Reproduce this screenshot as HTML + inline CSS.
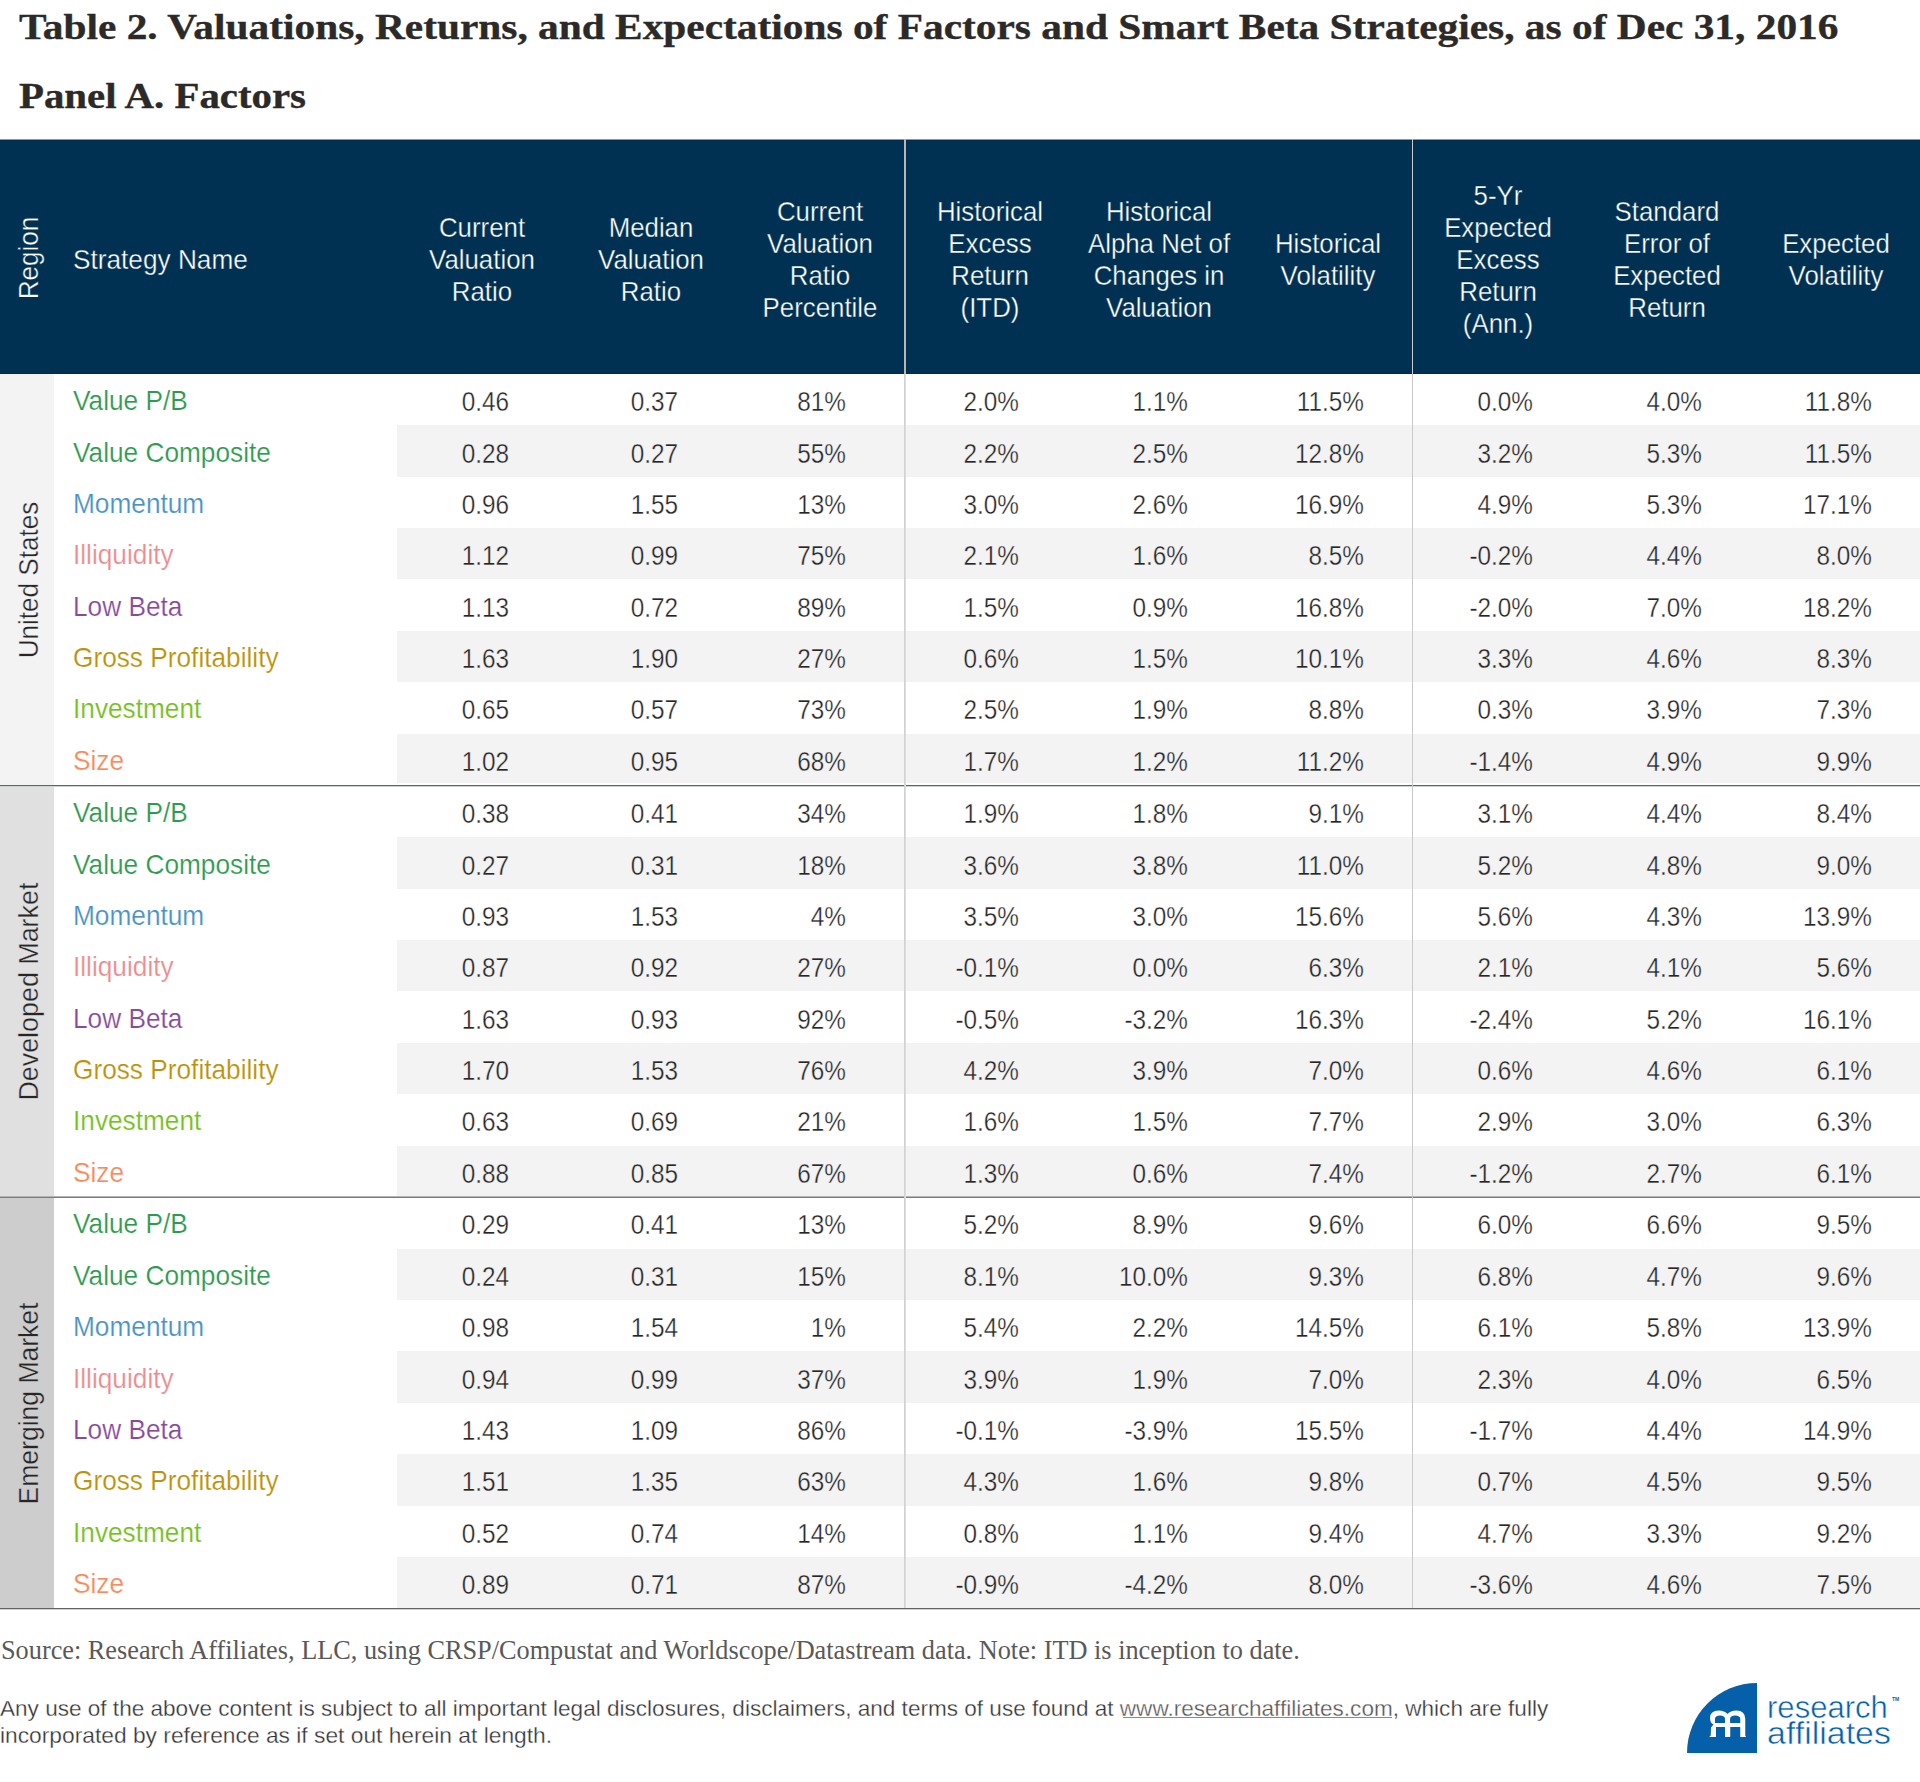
<!DOCTYPE html><html><head><meta charset="utf-8"><style>
html,body{margin:0;padding:0;background:#fff;width:1920px;height:1782px;overflow:hidden;position:relative}
div{position:absolute;white-space:nowrap}
.t{font-family:"Liberation Sans",sans-serif;font-size:27.20px;line-height:normal;color:#262626}
.h{font-family:"Liberation Sans",sans-serif;font-size:27.20px;line-height:normal;color:#fff;text-align:center;width:300px;-webkit-text-stroke:0.35px #013152}
.s{font-family:"Liberation Serif",serif;font-weight:bold;color:#2b2a28;line-height:normal;-webkit-text-stroke:0.35px #2b2a28}
.r{text-align:right;width:200px}
</style></head><body>
<div class="s" style="left:19px;top:4.71px;font-size:36.8px;transform-origin:0 0;transform:scaleX(1.124)" id="title">Table 2. Valuations, Returns, and Expectations of Factors and Smart Beta Strategies, as of Dec 31, 2016</div>
<div class="s" style="left:19px;top:73.81px;font-size:36.8px;transform-origin:0 0;transform:scaleX(1.11)" id="panel">Panel A. Factors</div>
<div style="left:0;top:139px;width:1920px;height:235px;background:#013152"></div>
<div style="left:0;top:139px;width:1920px;height:1px;background:#8a98a4"></div>
<div style="left:0;top:140px;width:1920px;height:1px;background:#012a4c"></div>
<div style="left:0;top:373px;width:1920px;height:1px;background:#012a4c"></div>
<div style="left:0;top:374px;width:54px;height:411px;background:#f3f3f3"></div>
<div style="left:397px;top:425.38px;width:1523px;height:51.38px;background:#f3f3f3"></div>
<div style="left:397px;top:528.12px;width:1523px;height:51.38px;background:#f3f3f3"></div>
<div style="left:397px;top:630.88px;width:1523px;height:51.38px;background:#f3f3f3"></div>
<div style="left:397px;top:733.62px;width:1523px;height:49.38px;background:#f3f3f3"></div>
<div style="left:0;top:786px;width:54px;height:410px;background:#e0e0e0"></div>
<div style="left:397px;top:837.38px;width:1523px;height:51.38px;background:#f3f3f3"></div>
<div style="left:397px;top:940.12px;width:1523px;height:51.38px;background:#f3f3f3"></div>
<div style="left:397px;top:1042.88px;width:1523px;height:51.38px;background:#f3f3f3"></div>
<div style="left:397px;top:1145.62px;width:1523px;height:50.38px;background:#f3f3f3"></div>
<div style="left:0;top:1198px;width:54px;height:410px;background:#cdcdcd"></div>
<div style="left:397px;top:1248.67px;width:1523px;height:51.38px;background:#f3f3f3"></div>
<div style="left:397px;top:1351.42px;width:1523px;height:51.38px;background:#f3f3f3"></div>
<div style="left:397px;top:1454.17px;width:1523px;height:51.38px;background:#f3f3f3"></div>
<div style="left:397px;top:1556.92px;width:1523px;height:51.08px;background:#f3f3f3"></div>
<div style="left:0;top:785px;width:1920px;height:1px;background:#646464"></div>
<div style="left:0;top:786px;width:1920px;height:1px;background:#cfd3d0"></div>
<div style="left:0;top:1196px;width:1920px;height:1px;background:#b5b5b5"></div>
<div style="left:0;top:1197px;width:1920px;height:1px;background:#7b7b7b"></div>
<div style="left:0;top:1608px;width:1920px;height:1px;background:#646464"></div>
<div style="left:0;top:1609px;width:1920px;height:1px;background:#d0d0d0"></div>
<div style="left:904px;top:374px;width:1px;height:1234px;background:#d2d2d2"></div>
<div style="left:905px;top:374px;width:1px;height:1234px;background:#dddddd"></div>
<div style="left:904px;top:139px;width:2px;height:235px;background:#b9b6b4"></div>
<div style="left:1412px;top:374px;width:1px;height:1234px;background:#c9c9c9"></div>
<div style="left:1412px;top:139px;width:1px;height:235px;background:#cccccc"></div>
<div class="h" style="left:13.38px;top:545.80px;width:600px;transform-origin:0 0;transform:rotate(-90deg) scaleX(0.96)" id="regionh">Region</div>
<div class="t" style="left:72.5px;top:244.08px;color:#fff;-webkit-text-stroke:0.35px #013152;transform-origin:0 0;transform:scaleX(0.964)">Strategy Name</div>
<div class="h" style="left:331.67px;top:212.08px;transform:scaleX(0.950)">Current</div>
<div class="h" style="left:331.67px;top:244.08px;transform:scaleX(0.950)">Valuation</div>
<div class="h" style="left:331.67px;top:276.08px;transform:scaleX(0.950)">Ratio</div>
<div class="h" style="left:501.00px;top:212.08px;transform:scaleX(0.950)">Median</div>
<div class="h" style="left:501.00px;top:244.08px;transform:scaleX(0.950)">Valuation</div>
<div class="h" style="left:501.00px;top:276.08px;transform:scaleX(0.950)">Ratio</div>
<div class="h" style="left:670.33px;top:196.08px;transform:scaleX(0.950)">Current</div>
<div class="h" style="left:670.33px;top:228.08px;transform:scaleX(0.950)">Valuation</div>
<div class="h" style="left:670.33px;top:260.08px;transform:scaleX(0.950)">Ratio</div>
<div class="h" style="left:670.33px;top:292.08px;transform:scaleX(0.950)">Percentile</div>
<div class="h" style="left:839.67px;top:196.08px;transform:scaleX(0.950)">Historical</div>
<div class="h" style="left:839.67px;top:228.08px;transform:scaleX(0.950)">Excess</div>
<div class="h" style="left:839.67px;top:260.08px;transform:scaleX(0.950)">Return</div>
<div class="h" style="left:839.67px;top:292.08px;transform:scaleX(0.950)">(ITD)</div>
<div class="h" style="left:1009.00px;top:196.08px;transform:scaleX(0.950)">Historical</div>
<div class="h" style="left:1009.00px;top:228.08px;transform:scaleX(0.950)">Alpha Net of</div>
<div class="h" style="left:1009.00px;top:260.08px;transform:scaleX(0.950)">Changes in</div>
<div class="h" style="left:1009.00px;top:292.08px;transform:scaleX(0.950)">Valuation</div>
<div class="h" style="left:1178.33px;top:228.08px;transform:scaleX(0.950)">Historical</div>
<div class="h" style="left:1178.33px;top:260.08px;transform:scaleX(0.950)">Volatility</div>
<div class="h" style="left:1347.66px;top:180.08px;transform:scaleX(0.950)">5-Yr</div>
<div class="h" style="left:1347.66px;top:212.08px;transform:scaleX(0.950)">Expected</div>
<div class="h" style="left:1347.66px;top:244.08px;transform:scaleX(0.950)">Excess</div>
<div class="h" style="left:1347.66px;top:276.08px;transform:scaleX(0.950)">Return</div>
<div class="h" style="left:1347.66px;top:308.08px;transform:scaleX(0.950)">(Ann.)</div>
<div class="h" style="left:1517.00px;top:196.08px;transform:scaleX(0.950)">Standard</div>
<div class="h" style="left:1517.00px;top:228.08px;transform:scaleX(0.950)">Error of</div>
<div class="h" style="left:1517.00px;top:260.08px;transform:scaleX(0.950)">Expected</div>
<div class="h" style="left:1517.00px;top:292.08px;transform:scaleX(0.950)">Return</div>
<div class="h" style="left:1686.33px;top:228.08px;transform:scaleX(0.950)">Expected</div>
<div class="h" style="left:1686.33px;top:260.08px;transform:scaleX(0.950)">Volatility</div>
<div class="t" style="left:72.5px;top:385.18px;color:#2e9a4e;-webkit-text-stroke:0.20px #fff;transform-origin:0 0;transform:scaleX(0.965)">Value P/B</div>
<div class="t r" style="left:308.50px;top:386.18px;-webkit-text-stroke:0.35px #fff;transform-origin:100% 0;transform:scaleX(0.895)">0.46</div>
<div class="t r" style="left:477.80px;top:386.18px;-webkit-text-stroke:0.35px #fff;transform-origin:100% 0;transform:scaleX(0.895)">0.37</div>
<div class="t r" style="left:646.00px;top:386.18px;-webkit-text-stroke:0.35px #fff;transform-origin:100% 0;transform:scaleX(0.895)">81%</div>
<div class="t r" style="left:819.00px;top:386.18px;-webkit-text-stroke:0.35px #fff;transform-origin:100% 0;transform:scaleX(0.895)">2.0%</div>
<div class="t r" style="left:988.00px;top:386.18px;-webkit-text-stroke:0.35px #fff;transform-origin:100% 0;transform:scaleX(0.895)">1.1%</div>
<div class="t r" style="left:1164.00px;top:386.18px;-webkit-text-stroke:0.35px #fff;transform-origin:100% 0;transform:scaleX(0.895)">11.5%</div>
<div class="t r" style="left:1333.00px;top:386.18px;-webkit-text-stroke:0.35px #fff;transform-origin:100% 0;transform:scaleX(0.895)">0.0%</div>
<div class="t r" style="left:1502.00px;top:386.18px;-webkit-text-stroke:0.35px #fff;transform-origin:100% 0;transform:scaleX(0.895)">4.0%</div>
<div class="t r" style="left:1671.80px;top:386.18px;-webkit-text-stroke:0.35px #fff;transform-origin:100% 0;transform:scaleX(0.895)">11.8%</div>
<div class="t" style="left:72.5px;top:436.55px;color:#2e9a4e;-webkit-text-stroke:0.20px #fff;transform-origin:0 0;transform:scaleX(0.965)">Value Composite</div>
<div class="t r" style="left:308.50px;top:437.55px;-webkit-text-stroke:0.35px #f3f3f3;transform-origin:100% 0;transform:scaleX(0.895)">0.28</div>
<div class="t r" style="left:477.80px;top:437.55px;-webkit-text-stroke:0.35px #f3f3f3;transform-origin:100% 0;transform:scaleX(0.895)">0.27</div>
<div class="t r" style="left:646.00px;top:437.55px;-webkit-text-stroke:0.35px #f3f3f3;transform-origin:100% 0;transform:scaleX(0.895)">55%</div>
<div class="t r" style="left:819.00px;top:437.55px;-webkit-text-stroke:0.35px #f3f3f3;transform-origin:100% 0;transform:scaleX(0.895)">2.2%</div>
<div class="t r" style="left:988.00px;top:437.55px;-webkit-text-stroke:0.35px #f3f3f3;transform-origin:100% 0;transform:scaleX(0.895)">2.5%</div>
<div class="t r" style="left:1164.00px;top:437.55px;-webkit-text-stroke:0.35px #f3f3f3;transform-origin:100% 0;transform:scaleX(0.895)">12.8%</div>
<div class="t r" style="left:1333.00px;top:437.55px;-webkit-text-stroke:0.35px #f3f3f3;transform-origin:100% 0;transform:scaleX(0.895)">3.2%</div>
<div class="t r" style="left:1502.00px;top:437.55px;-webkit-text-stroke:0.35px #f3f3f3;transform-origin:100% 0;transform:scaleX(0.895)">5.3%</div>
<div class="t r" style="left:1671.80px;top:437.55px;-webkit-text-stroke:0.35px #f3f3f3;transform-origin:100% 0;transform:scaleX(0.895)">11.5%</div>
<div class="t" style="left:72.5px;top:487.93px;color:#4a92c4;-webkit-text-stroke:0.20px #fff;transform-origin:0 0;transform:scaleX(0.965)">Momentum</div>
<div class="t r" style="left:308.50px;top:488.93px;-webkit-text-stroke:0.35px #fff;transform-origin:100% 0;transform:scaleX(0.895)">0.96</div>
<div class="t r" style="left:477.80px;top:488.93px;-webkit-text-stroke:0.35px #fff;transform-origin:100% 0;transform:scaleX(0.895)">1.55</div>
<div class="t r" style="left:646.00px;top:488.93px;-webkit-text-stroke:0.35px #fff;transform-origin:100% 0;transform:scaleX(0.895)">13%</div>
<div class="t r" style="left:819.00px;top:488.93px;-webkit-text-stroke:0.35px #fff;transform-origin:100% 0;transform:scaleX(0.895)">3.0%</div>
<div class="t r" style="left:988.00px;top:488.93px;-webkit-text-stroke:0.35px #fff;transform-origin:100% 0;transform:scaleX(0.895)">2.6%</div>
<div class="t r" style="left:1164.00px;top:488.93px;-webkit-text-stroke:0.35px #fff;transform-origin:100% 0;transform:scaleX(0.895)">16.9%</div>
<div class="t r" style="left:1333.00px;top:488.93px;-webkit-text-stroke:0.35px #fff;transform-origin:100% 0;transform:scaleX(0.895)">4.9%</div>
<div class="t r" style="left:1502.00px;top:488.93px;-webkit-text-stroke:0.35px #fff;transform-origin:100% 0;transform:scaleX(0.895)">5.3%</div>
<div class="t r" style="left:1671.80px;top:488.93px;-webkit-text-stroke:0.35px #fff;transform-origin:100% 0;transform:scaleX(0.895)">17.1%</div>
<div class="t" style="left:72.5px;top:539.30px;color:#ea8c8e;-webkit-text-stroke:0.20px #fff;transform-origin:0 0;transform:scaleX(0.965)">Illiquidity</div>
<div class="t r" style="left:308.50px;top:540.30px;-webkit-text-stroke:0.35px #f3f3f3;transform-origin:100% 0;transform:scaleX(0.895)">1.12</div>
<div class="t r" style="left:477.80px;top:540.30px;-webkit-text-stroke:0.35px #f3f3f3;transform-origin:100% 0;transform:scaleX(0.895)">0.99</div>
<div class="t r" style="left:646.00px;top:540.30px;-webkit-text-stroke:0.35px #f3f3f3;transform-origin:100% 0;transform:scaleX(0.895)">75%</div>
<div class="t r" style="left:819.00px;top:540.30px;-webkit-text-stroke:0.35px #f3f3f3;transform-origin:100% 0;transform:scaleX(0.895)">2.1%</div>
<div class="t r" style="left:988.00px;top:540.30px;-webkit-text-stroke:0.35px #f3f3f3;transform-origin:100% 0;transform:scaleX(0.895)">1.6%</div>
<div class="t r" style="left:1164.00px;top:540.30px;-webkit-text-stroke:0.35px #f3f3f3;transform-origin:100% 0;transform:scaleX(0.895)">8.5%</div>
<div class="t r" style="left:1333.00px;top:540.30px;-webkit-text-stroke:0.35px #f3f3f3;transform-origin:100% 0;transform:scaleX(0.895)">-0.2%</div>
<div class="t r" style="left:1502.00px;top:540.30px;-webkit-text-stroke:0.35px #f3f3f3;transform-origin:100% 0;transform:scaleX(0.895)">4.4%</div>
<div class="t r" style="left:1671.80px;top:540.30px;-webkit-text-stroke:0.35px #f3f3f3;transform-origin:100% 0;transform:scaleX(0.895)">8.0%</div>
<div class="t" style="left:72.5px;top:590.68px;color:#874a9c;-webkit-text-stroke:0.20px #fff;transform-origin:0 0;transform:scaleX(0.965)">Low Beta</div>
<div class="t r" style="left:308.50px;top:591.68px;-webkit-text-stroke:0.35px #fff;transform-origin:100% 0;transform:scaleX(0.895)">1.13</div>
<div class="t r" style="left:477.80px;top:591.68px;-webkit-text-stroke:0.35px #fff;transform-origin:100% 0;transform:scaleX(0.895)">0.72</div>
<div class="t r" style="left:646.00px;top:591.68px;-webkit-text-stroke:0.35px #fff;transform-origin:100% 0;transform:scaleX(0.895)">89%</div>
<div class="t r" style="left:819.00px;top:591.68px;-webkit-text-stroke:0.35px #fff;transform-origin:100% 0;transform:scaleX(0.895)">1.5%</div>
<div class="t r" style="left:988.00px;top:591.68px;-webkit-text-stroke:0.35px #fff;transform-origin:100% 0;transform:scaleX(0.895)">0.9%</div>
<div class="t r" style="left:1164.00px;top:591.68px;-webkit-text-stroke:0.35px #fff;transform-origin:100% 0;transform:scaleX(0.895)">16.8%</div>
<div class="t r" style="left:1333.00px;top:591.68px;-webkit-text-stroke:0.35px #fff;transform-origin:100% 0;transform:scaleX(0.895)">-2.0%</div>
<div class="t r" style="left:1502.00px;top:591.68px;-webkit-text-stroke:0.35px #fff;transform-origin:100% 0;transform:scaleX(0.895)">7.0%</div>
<div class="t r" style="left:1671.80px;top:591.68px;-webkit-text-stroke:0.35px #fff;transform-origin:100% 0;transform:scaleX(0.895)">18.2%</div>
<div class="t" style="left:72.5px;top:642.05px;color:#bb920a;-webkit-text-stroke:0.20px #fff;transform-origin:0 0;transform:scaleX(0.965)">Gross Profitability</div>
<div class="t r" style="left:308.50px;top:643.05px;-webkit-text-stroke:0.35px #f3f3f3;transform-origin:100% 0;transform:scaleX(0.895)">1.63</div>
<div class="t r" style="left:477.80px;top:643.05px;-webkit-text-stroke:0.35px #f3f3f3;transform-origin:100% 0;transform:scaleX(0.895)">1.90</div>
<div class="t r" style="left:646.00px;top:643.05px;-webkit-text-stroke:0.35px #f3f3f3;transform-origin:100% 0;transform:scaleX(0.895)">27%</div>
<div class="t r" style="left:819.00px;top:643.05px;-webkit-text-stroke:0.35px #f3f3f3;transform-origin:100% 0;transform:scaleX(0.895)">0.6%</div>
<div class="t r" style="left:988.00px;top:643.05px;-webkit-text-stroke:0.35px #f3f3f3;transform-origin:100% 0;transform:scaleX(0.895)">1.5%</div>
<div class="t r" style="left:1164.00px;top:643.05px;-webkit-text-stroke:0.35px #f3f3f3;transform-origin:100% 0;transform:scaleX(0.895)">10.1%</div>
<div class="t r" style="left:1333.00px;top:643.05px;-webkit-text-stroke:0.35px #f3f3f3;transform-origin:100% 0;transform:scaleX(0.895)">3.3%</div>
<div class="t r" style="left:1502.00px;top:643.05px;-webkit-text-stroke:0.35px #f3f3f3;transform-origin:100% 0;transform:scaleX(0.895)">4.6%</div>
<div class="t r" style="left:1671.80px;top:643.05px;-webkit-text-stroke:0.35px #f3f3f3;transform-origin:100% 0;transform:scaleX(0.895)">8.3%</div>
<div class="t" style="left:72.5px;top:693.43px;color:#74c01c;-webkit-text-stroke:0.20px #fff;transform-origin:0 0;transform:scaleX(0.965)">Investment</div>
<div class="t r" style="left:308.50px;top:694.43px;-webkit-text-stroke:0.35px #fff;transform-origin:100% 0;transform:scaleX(0.895)">0.65</div>
<div class="t r" style="left:477.80px;top:694.43px;-webkit-text-stroke:0.35px #fff;transform-origin:100% 0;transform:scaleX(0.895)">0.57</div>
<div class="t r" style="left:646.00px;top:694.43px;-webkit-text-stroke:0.35px #fff;transform-origin:100% 0;transform:scaleX(0.895)">73%</div>
<div class="t r" style="left:819.00px;top:694.43px;-webkit-text-stroke:0.35px #fff;transform-origin:100% 0;transform:scaleX(0.895)">2.5%</div>
<div class="t r" style="left:988.00px;top:694.43px;-webkit-text-stroke:0.35px #fff;transform-origin:100% 0;transform:scaleX(0.895)">1.9%</div>
<div class="t r" style="left:1164.00px;top:694.43px;-webkit-text-stroke:0.35px #fff;transform-origin:100% 0;transform:scaleX(0.895)">8.8%</div>
<div class="t r" style="left:1333.00px;top:694.43px;-webkit-text-stroke:0.35px #fff;transform-origin:100% 0;transform:scaleX(0.895)">0.3%</div>
<div class="t r" style="left:1502.00px;top:694.43px;-webkit-text-stroke:0.35px #fff;transform-origin:100% 0;transform:scaleX(0.895)">3.9%</div>
<div class="t r" style="left:1671.80px;top:694.43px;-webkit-text-stroke:0.35px #fff;transform-origin:100% 0;transform:scaleX(0.895)">7.3%</div>
<div class="t" style="left:72.5px;top:744.80px;color:#f78b5b;-webkit-text-stroke:0.20px #fff;transform-origin:0 0;transform:scaleX(0.965)">Size</div>
<div class="t r" style="left:308.50px;top:745.80px;-webkit-text-stroke:0.35px #f3f3f3;transform-origin:100% 0;transform:scaleX(0.895)">1.02</div>
<div class="t r" style="left:477.80px;top:745.80px;-webkit-text-stroke:0.35px #f3f3f3;transform-origin:100% 0;transform:scaleX(0.895)">0.95</div>
<div class="t r" style="left:646.00px;top:745.80px;-webkit-text-stroke:0.35px #f3f3f3;transform-origin:100% 0;transform:scaleX(0.895)">68%</div>
<div class="t r" style="left:819.00px;top:745.80px;-webkit-text-stroke:0.35px #f3f3f3;transform-origin:100% 0;transform:scaleX(0.895)">1.7%</div>
<div class="t r" style="left:988.00px;top:745.80px;-webkit-text-stroke:0.35px #f3f3f3;transform-origin:100% 0;transform:scaleX(0.895)">1.2%</div>
<div class="t r" style="left:1164.00px;top:745.80px;-webkit-text-stroke:0.35px #f3f3f3;transform-origin:100% 0;transform:scaleX(0.895)">11.2%</div>
<div class="t r" style="left:1333.00px;top:745.80px;-webkit-text-stroke:0.35px #f3f3f3;transform-origin:100% 0;transform:scaleX(0.895)">-1.4%</div>
<div class="t r" style="left:1502.00px;top:745.80px;-webkit-text-stroke:0.35px #f3f3f3;transform-origin:100% 0;transform:scaleX(0.895)">4.9%</div>
<div class="t r" style="left:1671.80px;top:745.80px;-webkit-text-stroke:0.35px #f3f3f3;transform-origin:100% 0;transform:scaleX(0.895)">9.9%</div>
<div class="t" style="left:72.5px;top:797.18px;color:#2e9a4e;-webkit-text-stroke:0.20px #fff;transform-origin:0 0;transform:scaleX(0.965)">Value P/B</div>
<div class="t r" style="left:308.50px;top:798.18px;-webkit-text-stroke:0.35px #fff;transform-origin:100% 0;transform:scaleX(0.895)">0.38</div>
<div class="t r" style="left:477.80px;top:798.18px;-webkit-text-stroke:0.35px #fff;transform-origin:100% 0;transform:scaleX(0.895)">0.41</div>
<div class="t r" style="left:646.00px;top:798.18px;-webkit-text-stroke:0.35px #fff;transform-origin:100% 0;transform:scaleX(0.895)">34%</div>
<div class="t r" style="left:819.00px;top:798.18px;-webkit-text-stroke:0.35px #fff;transform-origin:100% 0;transform:scaleX(0.895)">1.9%</div>
<div class="t r" style="left:988.00px;top:798.18px;-webkit-text-stroke:0.35px #fff;transform-origin:100% 0;transform:scaleX(0.895)">1.8%</div>
<div class="t r" style="left:1164.00px;top:798.18px;-webkit-text-stroke:0.35px #fff;transform-origin:100% 0;transform:scaleX(0.895)">9.1%</div>
<div class="t r" style="left:1333.00px;top:798.18px;-webkit-text-stroke:0.35px #fff;transform-origin:100% 0;transform:scaleX(0.895)">3.1%</div>
<div class="t r" style="left:1502.00px;top:798.18px;-webkit-text-stroke:0.35px #fff;transform-origin:100% 0;transform:scaleX(0.895)">4.4%</div>
<div class="t r" style="left:1671.80px;top:798.18px;-webkit-text-stroke:0.35px #fff;transform-origin:100% 0;transform:scaleX(0.895)">8.4%</div>
<div class="t" style="left:72.5px;top:848.55px;color:#2e9a4e;-webkit-text-stroke:0.20px #fff;transform-origin:0 0;transform:scaleX(0.965)">Value Composite</div>
<div class="t r" style="left:308.50px;top:849.55px;-webkit-text-stroke:0.35px #f3f3f3;transform-origin:100% 0;transform:scaleX(0.895)">0.27</div>
<div class="t r" style="left:477.80px;top:849.55px;-webkit-text-stroke:0.35px #f3f3f3;transform-origin:100% 0;transform:scaleX(0.895)">0.31</div>
<div class="t r" style="left:646.00px;top:849.55px;-webkit-text-stroke:0.35px #f3f3f3;transform-origin:100% 0;transform:scaleX(0.895)">18%</div>
<div class="t r" style="left:819.00px;top:849.55px;-webkit-text-stroke:0.35px #f3f3f3;transform-origin:100% 0;transform:scaleX(0.895)">3.6%</div>
<div class="t r" style="left:988.00px;top:849.55px;-webkit-text-stroke:0.35px #f3f3f3;transform-origin:100% 0;transform:scaleX(0.895)">3.8%</div>
<div class="t r" style="left:1164.00px;top:849.55px;-webkit-text-stroke:0.35px #f3f3f3;transform-origin:100% 0;transform:scaleX(0.895)">11.0%</div>
<div class="t r" style="left:1333.00px;top:849.55px;-webkit-text-stroke:0.35px #f3f3f3;transform-origin:100% 0;transform:scaleX(0.895)">5.2%</div>
<div class="t r" style="left:1502.00px;top:849.55px;-webkit-text-stroke:0.35px #f3f3f3;transform-origin:100% 0;transform:scaleX(0.895)">4.8%</div>
<div class="t r" style="left:1671.80px;top:849.55px;-webkit-text-stroke:0.35px #f3f3f3;transform-origin:100% 0;transform:scaleX(0.895)">9.0%</div>
<div class="t" style="left:72.5px;top:899.93px;color:#4a92c4;-webkit-text-stroke:0.20px #fff;transform-origin:0 0;transform:scaleX(0.965)">Momentum</div>
<div class="t r" style="left:308.50px;top:900.93px;-webkit-text-stroke:0.35px #fff;transform-origin:100% 0;transform:scaleX(0.895)">0.93</div>
<div class="t r" style="left:477.80px;top:900.93px;-webkit-text-stroke:0.35px #fff;transform-origin:100% 0;transform:scaleX(0.895)">1.53</div>
<div class="t r" style="left:646.00px;top:900.93px;-webkit-text-stroke:0.35px #fff;transform-origin:100% 0;transform:scaleX(0.895)">4%</div>
<div class="t r" style="left:819.00px;top:900.93px;-webkit-text-stroke:0.35px #fff;transform-origin:100% 0;transform:scaleX(0.895)">3.5%</div>
<div class="t r" style="left:988.00px;top:900.93px;-webkit-text-stroke:0.35px #fff;transform-origin:100% 0;transform:scaleX(0.895)">3.0%</div>
<div class="t r" style="left:1164.00px;top:900.93px;-webkit-text-stroke:0.35px #fff;transform-origin:100% 0;transform:scaleX(0.895)">15.6%</div>
<div class="t r" style="left:1333.00px;top:900.93px;-webkit-text-stroke:0.35px #fff;transform-origin:100% 0;transform:scaleX(0.895)">5.6%</div>
<div class="t r" style="left:1502.00px;top:900.93px;-webkit-text-stroke:0.35px #fff;transform-origin:100% 0;transform:scaleX(0.895)">4.3%</div>
<div class="t r" style="left:1671.80px;top:900.93px;-webkit-text-stroke:0.35px #fff;transform-origin:100% 0;transform:scaleX(0.895)">13.9%</div>
<div class="t" style="left:72.5px;top:951.30px;color:#ea8c8e;-webkit-text-stroke:0.20px #fff;transform-origin:0 0;transform:scaleX(0.965)">Illiquidity</div>
<div class="t r" style="left:308.50px;top:952.30px;-webkit-text-stroke:0.35px #f3f3f3;transform-origin:100% 0;transform:scaleX(0.895)">0.87</div>
<div class="t r" style="left:477.80px;top:952.30px;-webkit-text-stroke:0.35px #f3f3f3;transform-origin:100% 0;transform:scaleX(0.895)">0.92</div>
<div class="t r" style="left:646.00px;top:952.30px;-webkit-text-stroke:0.35px #f3f3f3;transform-origin:100% 0;transform:scaleX(0.895)">27%</div>
<div class="t r" style="left:819.00px;top:952.30px;-webkit-text-stroke:0.35px #f3f3f3;transform-origin:100% 0;transform:scaleX(0.895)">-0.1%</div>
<div class="t r" style="left:988.00px;top:952.30px;-webkit-text-stroke:0.35px #f3f3f3;transform-origin:100% 0;transform:scaleX(0.895)">0.0%</div>
<div class="t r" style="left:1164.00px;top:952.30px;-webkit-text-stroke:0.35px #f3f3f3;transform-origin:100% 0;transform:scaleX(0.895)">6.3%</div>
<div class="t r" style="left:1333.00px;top:952.30px;-webkit-text-stroke:0.35px #f3f3f3;transform-origin:100% 0;transform:scaleX(0.895)">2.1%</div>
<div class="t r" style="left:1502.00px;top:952.30px;-webkit-text-stroke:0.35px #f3f3f3;transform-origin:100% 0;transform:scaleX(0.895)">4.1%</div>
<div class="t r" style="left:1671.80px;top:952.30px;-webkit-text-stroke:0.35px #f3f3f3;transform-origin:100% 0;transform:scaleX(0.895)">5.6%</div>
<div class="t" style="left:72.5px;top:1002.68px;color:#874a9c;-webkit-text-stroke:0.20px #fff;transform-origin:0 0;transform:scaleX(0.965)">Low Beta</div>
<div class="t r" style="left:308.50px;top:1003.68px;-webkit-text-stroke:0.35px #fff;transform-origin:100% 0;transform:scaleX(0.895)">1.63</div>
<div class="t r" style="left:477.80px;top:1003.68px;-webkit-text-stroke:0.35px #fff;transform-origin:100% 0;transform:scaleX(0.895)">0.93</div>
<div class="t r" style="left:646.00px;top:1003.68px;-webkit-text-stroke:0.35px #fff;transform-origin:100% 0;transform:scaleX(0.895)">92%</div>
<div class="t r" style="left:819.00px;top:1003.68px;-webkit-text-stroke:0.35px #fff;transform-origin:100% 0;transform:scaleX(0.895)">-0.5%</div>
<div class="t r" style="left:988.00px;top:1003.68px;-webkit-text-stroke:0.35px #fff;transform-origin:100% 0;transform:scaleX(0.895)">-3.2%</div>
<div class="t r" style="left:1164.00px;top:1003.68px;-webkit-text-stroke:0.35px #fff;transform-origin:100% 0;transform:scaleX(0.895)">16.3%</div>
<div class="t r" style="left:1333.00px;top:1003.68px;-webkit-text-stroke:0.35px #fff;transform-origin:100% 0;transform:scaleX(0.895)">-2.4%</div>
<div class="t r" style="left:1502.00px;top:1003.68px;-webkit-text-stroke:0.35px #fff;transform-origin:100% 0;transform:scaleX(0.895)">5.2%</div>
<div class="t r" style="left:1671.80px;top:1003.68px;-webkit-text-stroke:0.35px #fff;transform-origin:100% 0;transform:scaleX(0.895)">16.1%</div>
<div class="t" style="left:72.5px;top:1054.05px;color:#bb920a;-webkit-text-stroke:0.20px #fff;transform-origin:0 0;transform:scaleX(0.965)">Gross Profitability</div>
<div class="t r" style="left:308.50px;top:1055.05px;-webkit-text-stroke:0.35px #f3f3f3;transform-origin:100% 0;transform:scaleX(0.895)">1.70</div>
<div class="t r" style="left:477.80px;top:1055.05px;-webkit-text-stroke:0.35px #f3f3f3;transform-origin:100% 0;transform:scaleX(0.895)">1.53</div>
<div class="t r" style="left:646.00px;top:1055.05px;-webkit-text-stroke:0.35px #f3f3f3;transform-origin:100% 0;transform:scaleX(0.895)">76%</div>
<div class="t r" style="left:819.00px;top:1055.05px;-webkit-text-stroke:0.35px #f3f3f3;transform-origin:100% 0;transform:scaleX(0.895)">4.2%</div>
<div class="t r" style="left:988.00px;top:1055.05px;-webkit-text-stroke:0.35px #f3f3f3;transform-origin:100% 0;transform:scaleX(0.895)">3.9%</div>
<div class="t r" style="left:1164.00px;top:1055.05px;-webkit-text-stroke:0.35px #f3f3f3;transform-origin:100% 0;transform:scaleX(0.895)">7.0%</div>
<div class="t r" style="left:1333.00px;top:1055.05px;-webkit-text-stroke:0.35px #f3f3f3;transform-origin:100% 0;transform:scaleX(0.895)">0.6%</div>
<div class="t r" style="left:1502.00px;top:1055.05px;-webkit-text-stroke:0.35px #f3f3f3;transform-origin:100% 0;transform:scaleX(0.895)">4.6%</div>
<div class="t r" style="left:1671.80px;top:1055.05px;-webkit-text-stroke:0.35px #f3f3f3;transform-origin:100% 0;transform:scaleX(0.895)">6.1%</div>
<div class="t" style="left:72.5px;top:1105.43px;color:#74c01c;-webkit-text-stroke:0.20px #fff;transform-origin:0 0;transform:scaleX(0.965)">Investment</div>
<div class="t r" style="left:308.50px;top:1106.43px;-webkit-text-stroke:0.35px #fff;transform-origin:100% 0;transform:scaleX(0.895)">0.63</div>
<div class="t r" style="left:477.80px;top:1106.43px;-webkit-text-stroke:0.35px #fff;transform-origin:100% 0;transform:scaleX(0.895)">0.69</div>
<div class="t r" style="left:646.00px;top:1106.43px;-webkit-text-stroke:0.35px #fff;transform-origin:100% 0;transform:scaleX(0.895)">21%</div>
<div class="t r" style="left:819.00px;top:1106.43px;-webkit-text-stroke:0.35px #fff;transform-origin:100% 0;transform:scaleX(0.895)">1.6%</div>
<div class="t r" style="left:988.00px;top:1106.43px;-webkit-text-stroke:0.35px #fff;transform-origin:100% 0;transform:scaleX(0.895)">1.5%</div>
<div class="t r" style="left:1164.00px;top:1106.43px;-webkit-text-stroke:0.35px #fff;transform-origin:100% 0;transform:scaleX(0.895)">7.7%</div>
<div class="t r" style="left:1333.00px;top:1106.43px;-webkit-text-stroke:0.35px #fff;transform-origin:100% 0;transform:scaleX(0.895)">2.9%</div>
<div class="t r" style="left:1502.00px;top:1106.43px;-webkit-text-stroke:0.35px #fff;transform-origin:100% 0;transform:scaleX(0.895)">3.0%</div>
<div class="t r" style="left:1671.80px;top:1106.43px;-webkit-text-stroke:0.35px #fff;transform-origin:100% 0;transform:scaleX(0.895)">6.3%</div>
<div class="t" style="left:72.5px;top:1156.80px;color:#f78b5b;-webkit-text-stroke:0.20px #fff;transform-origin:0 0;transform:scaleX(0.965)">Size</div>
<div class="t r" style="left:308.50px;top:1157.80px;-webkit-text-stroke:0.35px #f3f3f3;transform-origin:100% 0;transform:scaleX(0.895)">0.88</div>
<div class="t r" style="left:477.80px;top:1157.80px;-webkit-text-stroke:0.35px #f3f3f3;transform-origin:100% 0;transform:scaleX(0.895)">0.85</div>
<div class="t r" style="left:646.00px;top:1157.80px;-webkit-text-stroke:0.35px #f3f3f3;transform-origin:100% 0;transform:scaleX(0.895)">67%</div>
<div class="t r" style="left:819.00px;top:1157.80px;-webkit-text-stroke:0.35px #f3f3f3;transform-origin:100% 0;transform:scaleX(0.895)">1.3%</div>
<div class="t r" style="left:988.00px;top:1157.80px;-webkit-text-stroke:0.35px #f3f3f3;transform-origin:100% 0;transform:scaleX(0.895)">0.6%</div>
<div class="t r" style="left:1164.00px;top:1157.80px;-webkit-text-stroke:0.35px #f3f3f3;transform-origin:100% 0;transform:scaleX(0.895)">7.4%</div>
<div class="t r" style="left:1333.00px;top:1157.80px;-webkit-text-stroke:0.35px #f3f3f3;transform-origin:100% 0;transform:scaleX(0.895)">-1.2%</div>
<div class="t r" style="left:1502.00px;top:1157.80px;-webkit-text-stroke:0.35px #f3f3f3;transform-origin:100% 0;transform:scaleX(0.895)">2.7%</div>
<div class="t r" style="left:1671.80px;top:1157.80px;-webkit-text-stroke:0.35px #f3f3f3;transform-origin:100% 0;transform:scaleX(0.895)">6.1%</div>
<div class="t" style="left:72.5px;top:1208.48px;color:#2e9a4e;-webkit-text-stroke:0.20px #fff;transform-origin:0 0;transform:scaleX(0.965)">Value P/B</div>
<div class="t r" style="left:308.50px;top:1209.48px;-webkit-text-stroke:0.35px #fff;transform-origin:100% 0;transform:scaleX(0.895)">0.29</div>
<div class="t r" style="left:477.80px;top:1209.48px;-webkit-text-stroke:0.35px #fff;transform-origin:100% 0;transform:scaleX(0.895)">0.41</div>
<div class="t r" style="left:646.00px;top:1209.48px;-webkit-text-stroke:0.35px #fff;transform-origin:100% 0;transform:scaleX(0.895)">13%</div>
<div class="t r" style="left:819.00px;top:1209.48px;-webkit-text-stroke:0.35px #fff;transform-origin:100% 0;transform:scaleX(0.895)">5.2%</div>
<div class="t r" style="left:988.00px;top:1209.48px;-webkit-text-stroke:0.35px #fff;transform-origin:100% 0;transform:scaleX(0.895)">8.9%</div>
<div class="t r" style="left:1164.00px;top:1209.48px;-webkit-text-stroke:0.35px #fff;transform-origin:100% 0;transform:scaleX(0.895)">9.6%</div>
<div class="t r" style="left:1333.00px;top:1209.48px;-webkit-text-stroke:0.35px #fff;transform-origin:100% 0;transform:scaleX(0.895)">6.0%</div>
<div class="t r" style="left:1502.00px;top:1209.48px;-webkit-text-stroke:0.35px #fff;transform-origin:100% 0;transform:scaleX(0.895)">6.6%</div>
<div class="t r" style="left:1671.80px;top:1209.48px;-webkit-text-stroke:0.35px #fff;transform-origin:100% 0;transform:scaleX(0.895)">9.5%</div>
<div class="t" style="left:72.5px;top:1259.85px;color:#2e9a4e;-webkit-text-stroke:0.20px #fff;transform-origin:0 0;transform:scaleX(0.965)">Value Composite</div>
<div class="t r" style="left:308.50px;top:1260.85px;-webkit-text-stroke:0.35px #f3f3f3;transform-origin:100% 0;transform:scaleX(0.895)">0.24</div>
<div class="t r" style="left:477.80px;top:1260.85px;-webkit-text-stroke:0.35px #f3f3f3;transform-origin:100% 0;transform:scaleX(0.895)">0.31</div>
<div class="t r" style="left:646.00px;top:1260.85px;-webkit-text-stroke:0.35px #f3f3f3;transform-origin:100% 0;transform:scaleX(0.895)">15%</div>
<div class="t r" style="left:819.00px;top:1260.85px;-webkit-text-stroke:0.35px #f3f3f3;transform-origin:100% 0;transform:scaleX(0.895)">8.1%</div>
<div class="t r" style="left:988.00px;top:1260.85px;-webkit-text-stroke:0.35px #f3f3f3;transform-origin:100% 0;transform:scaleX(0.895)">10.0%</div>
<div class="t r" style="left:1164.00px;top:1260.85px;-webkit-text-stroke:0.35px #f3f3f3;transform-origin:100% 0;transform:scaleX(0.895)">9.3%</div>
<div class="t r" style="left:1333.00px;top:1260.85px;-webkit-text-stroke:0.35px #f3f3f3;transform-origin:100% 0;transform:scaleX(0.895)">6.8%</div>
<div class="t r" style="left:1502.00px;top:1260.85px;-webkit-text-stroke:0.35px #f3f3f3;transform-origin:100% 0;transform:scaleX(0.895)">4.7%</div>
<div class="t r" style="left:1671.80px;top:1260.85px;-webkit-text-stroke:0.35px #f3f3f3;transform-origin:100% 0;transform:scaleX(0.895)">9.6%</div>
<div class="t" style="left:72.5px;top:1311.23px;color:#4a92c4;-webkit-text-stroke:0.20px #fff;transform-origin:0 0;transform:scaleX(0.965)">Momentum</div>
<div class="t r" style="left:308.50px;top:1312.23px;-webkit-text-stroke:0.35px #fff;transform-origin:100% 0;transform:scaleX(0.895)">0.98</div>
<div class="t r" style="left:477.80px;top:1312.23px;-webkit-text-stroke:0.35px #fff;transform-origin:100% 0;transform:scaleX(0.895)">1.54</div>
<div class="t r" style="left:646.00px;top:1312.23px;-webkit-text-stroke:0.35px #fff;transform-origin:100% 0;transform:scaleX(0.895)">1%</div>
<div class="t r" style="left:819.00px;top:1312.23px;-webkit-text-stroke:0.35px #fff;transform-origin:100% 0;transform:scaleX(0.895)">5.4%</div>
<div class="t r" style="left:988.00px;top:1312.23px;-webkit-text-stroke:0.35px #fff;transform-origin:100% 0;transform:scaleX(0.895)">2.2%</div>
<div class="t r" style="left:1164.00px;top:1312.23px;-webkit-text-stroke:0.35px #fff;transform-origin:100% 0;transform:scaleX(0.895)">14.5%</div>
<div class="t r" style="left:1333.00px;top:1312.23px;-webkit-text-stroke:0.35px #fff;transform-origin:100% 0;transform:scaleX(0.895)">6.1%</div>
<div class="t r" style="left:1502.00px;top:1312.23px;-webkit-text-stroke:0.35px #fff;transform-origin:100% 0;transform:scaleX(0.895)">5.8%</div>
<div class="t r" style="left:1671.80px;top:1312.23px;-webkit-text-stroke:0.35px #fff;transform-origin:100% 0;transform:scaleX(0.895)">13.9%</div>
<div class="t" style="left:72.5px;top:1362.60px;color:#ea8c8e;-webkit-text-stroke:0.20px #fff;transform-origin:0 0;transform:scaleX(0.965)">Illiquidity</div>
<div class="t r" style="left:308.50px;top:1363.60px;-webkit-text-stroke:0.35px #f3f3f3;transform-origin:100% 0;transform:scaleX(0.895)">0.94</div>
<div class="t r" style="left:477.80px;top:1363.60px;-webkit-text-stroke:0.35px #f3f3f3;transform-origin:100% 0;transform:scaleX(0.895)">0.99</div>
<div class="t r" style="left:646.00px;top:1363.60px;-webkit-text-stroke:0.35px #f3f3f3;transform-origin:100% 0;transform:scaleX(0.895)">37%</div>
<div class="t r" style="left:819.00px;top:1363.60px;-webkit-text-stroke:0.35px #f3f3f3;transform-origin:100% 0;transform:scaleX(0.895)">3.9%</div>
<div class="t r" style="left:988.00px;top:1363.60px;-webkit-text-stroke:0.35px #f3f3f3;transform-origin:100% 0;transform:scaleX(0.895)">1.9%</div>
<div class="t r" style="left:1164.00px;top:1363.60px;-webkit-text-stroke:0.35px #f3f3f3;transform-origin:100% 0;transform:scaleX(0.895)">7.0%</div>
<div class="t r" style="left:1333.00px;top:1363.60px;-webkit-text-stroke:0.35px #f3f3f3;transform-origin:100% 0;transform:scaleX(0.895)">2.3%</div>
<div class="t r" style="left:1502.00px;top:1363.60px;-webkit-text-stroke:0.35px #f3f3f3;transform-origin:100% 0;transform:scaleX(0.895)">4.0%</div>
<div class="t r" style="left:1671.80px;top:1363.60px;-webkit-text-stroke:0.35px #f3f3f3;transform-origin:100% 0;transform:scaleX(0.895)">6.5%</div>
<div class="t" style="left:72.5px;top:1413.98px;color:#874a9c;-webkit-text-stroke:0.20px #fff;transform-origin:0 0;transform:scaleX(0.965)">Low Beta</div>
<div class="t r" style="left:308.50px;top:1414.98px;-webkit-text-stroke:0.35px #fff;transform-origin:100% 0;transform:scaleX(0.895)">1.43</div>
<div class="t r" style="left:477.80px;top:1414.98px;-webkit-text-stroke:0.35px #fff;transform-origin:100% 0;transform:scaleX(0.895)">1.09</div>
<div class="t r" style="left:646.00px;top:1414.98px;-webkit-text-stroke:0.35px #fff;transform-origin:100% 0;transform:scaleX(0.895)">86%</div>
<div class="t r" style="left:819.00px;top:1414.98px;-webkit-text-stroke:0.35px #fff;transform-origin:100% 0;transform:scaleX(0.895)">-0.1%</div>
<div class="t r" style="left:988.00px;top:1414.98px;-webkit-text-stroke:0.35px #fff;transform-origin:100% 0;transform:scaleX(0.895)">-3.9%</div>
<div class="t r" style="left:1164.00px;top:1414.98px;-webkit-text-stroke:0.35px #fff;transform-origin:100% 0;transform:scaleX(0.895)">15.5%</div>
<div class="t r" style="left:1333.00px;top:1414.98px;-webkit-text-stroke:0.35px #fff;transform-origin:100% 0;transform:scaleX(0.895)">-1.7%</div>
<div class="t r" style="left:1502.00px;top:1414.98px;-webkit-text-stroke:0.35px #fff;transform-origin:100% 0;transform:scaleX(0.895)">4.4%</div>
<div class="t r" style="left:1671.80px;top:1414.98px;-webkit-text-stroke:0.35px #fff;transform-origin:100% 0;transform:scaleX(0.895)">14.9%</div>
<div class="t" style="left:72.5px;top:1465.35px;color:#bb920a;-webkit-text-stroke:0.20px #fff;transform-origin:0 0;transform:scaleX(0.965)">Gross Profitability</div>
<div class="t r" style="left:308.50px;top:1466.35px;-webkit-text-stroke:0.35px #f3f3f3;transform-origin:100% 0;transform:scaleX(0.895)">1.51</div>
<div class="t r" style="left:477.80px;top:1466.35px;-webkit-text-stroke:0.35px #f3f3f3;transform-origin:100% 0;transform:scaleX(0.895)">1.35</div>
<div class="t r" style="left:646.00px;top:1466.35px;-webkit-text-stroke:0.35px #f3f3f3;transform-origin:100% 0;transform:scaleX(0.895)">63%</div>
<div class="t r" style="left:819.00px;top:1466.35px;-webkit-text-stroke:0.35px #f3f3f3;transform-origin:100% 0;transform:scaleX(0.895)">4.3%</div>
<div class="t r" style="left:988.00px;top:1466.35px;-webkit-text-stroke:0.35px #f3f3f3;transform-origin:100% 0;transform:scaleX(0.895)">1.6%</div>
<div class="t r" style="left:1164.00px;top:1466.35px;-webkit-text-stroke:0.35px #f3f3f3;transform-origin:100% 0;transform:scaleX(0.895)">9.8%</div>
<div class="t r" style="left:1333.00px;top:1466.35px;-webkit-text-stroke:0.35px #f3f3f3;transform-origin:100% 0;transform:scaleX(0.895)">0.7%</div>
<div class="t r" style="left:1502.00px;top:1466.35px;-webkit-text-stroke:0.35px #f3f3f3;transform-origin:100% 0;transform:scaleX(0.895)">4.5%</div>
<div class="t r" style="left:1671.80px;top:1466.35px;-webkit-text-stroke:0.35px #f3f3f3;transform-origin:100% 0;transform:scaleX(0.895)">9.5%</div>
<div class="t" style="left:72.5px;top:1516.73px;color:#74c01c;-webkit-text-stroke:0.20px #fff;transform-origin:0 0;transform:scaleX(0.965)">Investment</div>
<div class="t r" style="left:308.50px;top:1517.73px;-webkit-text-stroke:0.35px #fff;transform-origin:100% 0;transform:scaleX(0.895)">0.52</div>
<div class="t r" style="left:477.80px;top:1517.73px;-webkit-text-stroke:0.35px #fff;transform-origin:100% 0;transform:scaleX(0.895)">0.74</div>
<div class="t r" style="left:646.00px;top:1517.73px;-webkit-text-stroke:0.35px #fff;transform-origin:100% 0;transform:scaleX(0.895)">14%</div>
<div class="t r" style="left:819.00px;top:1517.73px;-webkit-text-stroke:0.35px #fff;transform-origin:100% 0;transform:scaleX(0.895)">0.8%</div>
<div class="t r" style="left:988.00px;top:1517.73px;-webkit-text-stroke:0.35px #fff;transform-origin:100% 0;transform:scaleX(0.895)">1.1%</div>
<div class="t r" style="left:1164.00px;top:1517.73px;-webkit-text-stroke:0.35px #fff;transform-origin:100% 0;transform:scaleX(0.895)">9.4%</div>
<div class="t r" style="left:1333.00px;top:1517.73px;-webkit-text-stroke:0.35px #fff;transform-origin:100% 0;transform:scaleX(0.895)">4.7%</div>
<div class="t r" style="left:1502.00px;top:1517.73px;-webkit-text-stroke:0.35px #fff;transform-origin:100% 0;transform:scaleX(0.895)">3.3%</div>
<div class="t r" style="left:1671.80px;top:1517.73px;-webkit-text-stroke:0.35px #fff;transform-origin:100% 0;transform:scaleX(0.895)">9.2%</div>
<div class="t" style="left:72.5px;top:1568.10px;color:#f78b5b;-webkit-text-stroke:0.20px #fff;transform-origin:0 0;transform:scaleX(0.965)">Size</div>
<div class="t r" style="left:308.50px;top:1569.10px;-webkit-text-stroke:0.35px #f3f3f3;transform-origin:100% 0;transform:scaleX(0.895)">0.89</div>
<div class="t r" style="left:477.80px;top:1569.10px;-webkit-text-stroke:0.35px #f3f3f3;transform-origin:100% 0;transform:scaleX(0.895)">0.71</div>
<div class="t r" style="left:646.00px;top:1569.10px;-webkit-text-stroke:0.35px #f3f3f3;transform-origin:100% 0;transform:scaleX(0.895)">87%</div>
<div class="t r" style="left:819.00px;top:1569.10px;-webkit-text-stroke:0.35px #f3f3f3;transform-origin:100% 0;transform:scaleX(0.895)">-0.9%</div>
<div class="t r" style="left:988.00px;top:1569.10px;-webkit-text-stroke:0.35px #f3f3f3;transform-origin:100% 0;transform:scaleX(0.895)">-4.2%</div>
<div class="t r" style="left:1164.00px;top:1569.10px;-webkit-text-stroke:0.35px #f3f3f3;transform-origin:100% 0;transform:scaleX(0.895)">8.0%</div>
<div class="t r" style="left:1333.00px;top:1569.10px;-webkit-text-stroke:0.35px #f3f3f3;transform-origin:100% 0;transform:scaleX(0.895)">-3.6%</div>
<div class="t r" style="left:1502.00px;top:1569.10px;-webkit-text-stroke:0.35px #f3f3f3;transform-origin:100% 0;transform:scaleX(0.895)">4.6%</div>
<div class="t r" style="left:1671.80px;top:1569.10px;-webkit-text-stroke:0.35px #f3f3f3;transform-origin:100% 0;transform:scaleX(0.895)">7.5%</div>
<div class="t reg" style="left:13.38px;top:868.00px;width:600px;text-align:center;-webkit-text-stroke:0.35px #f3f3f3;transform-origin:0 0;transform:rotate(-90deg) scaleX(0.960)">United States</div>
<div class="t reg" style="left:13.38px;top:1287.90px;width:600px;text-align:center;-webkit-text-stroke:0.35px #e0e0e0;transform-origin:0 0;transform:rotate(-90deg) scaleX(0.988)">Developed Market</div>
<div class="t reg" style="left:13.38px;top:1695.65px;width:600px;text-align:center;-webkit-text-stroke:0.35px #cdcdcd;transform-origin:0 0;transform:rotate(-90deg) scaleX(0.975)">Emerging Market</div>
<div style="left:1px;top:1634.57px;font-family:'Liberation Serif',serif;font-size:26.4px;color:#595959;transform-origin:0 0;transform:scaleX(0.9957)" id="src">Source: Research Affiliates, LLC, using CRSP/Compustat and Worldscope/Datastream data. Note: ITD is inception to date.</div>
<div style="left:0px;top:1696.06px;font-family:'Liberation Sans',sans-serif;font-size:21.8px;color:#333;-webkit-text-stroke:0.3px #fff;transform-origin:0 0;transform:scaleX(1.035)" id="disc1">Any use of the above content is subject to all important legal disclosures, disclaimers, and terms of use found at <span style="color:#555">www.researchaffiliates.com</span>, which are fully</div>
<div style="left:0px;top:1722.76px;font-family:'Liberation Sans',sans-serif;font-size:21.8px;color:#333;-webkit-text-stroke:0.3px #fff;transform-origin:0 0;transform:scaleX(1.045)" id="disc2">incorporated by reference as if set out herein at length.</div>
<div style="left:1123px;top:1717px;width:269px;height:1px;background:#8a8a8a"></div>
<svg style="position:absolute;left:1687px;top:1683px" width="70" height="70" viewBox="0 0 70 70"><path d="M70 0 V70 H0 A70 70 0 0 1 70 0 Z" fill="#0660a9"/><g transform="translate(17,22)"><path fill="#fff" fill-rule="evenodd" d="M5,32 H12 V22.1 H21 V32 H26.25 V22.1 H36.25 V32 H42 L41.25,30.5 V14 Q41.25,5.4 32.4,5.4 Q26.5,5.4 23.5,9 Q20.5,5.4 14.8,5.4 Q6,5.4 6,13 Q6,18 9.5,19.5 L7,22.5 L6.75,30.5 Z M11,17.9 H21 V14 Q21,10.5 16,10.5 Q11,10.5 11,14 Z M26.1,17.9 H36.25 V14 Q36.25,10.5 31.2,10.5 Q26.1,10.5 26.1,14 Z"/></g></svg>
<div style="left:1766.5px;top:1689.03px;font-family:'Liberation Sans',sans-serif;font-size:32px;color:#0660a9;-webkit-text-stroke:0.5px #fff;transform-origin:0 0;transform:scaleX(0.971)" id="logo1">research</div>
<div style="left:1766.5px;top:1715.33px;font-family:'Liberation Sans',sans-serif;font-size:32px;color:#0660a9;-webkit-text-stroke:0.5px #fff;transform-origin:0 0;transform:scaleX(1.061)" id="logo2">affiliates</div>
<div style="left:1892px;top:1696px;font-family:'Liberation Sans',sans-serif;font-size:5px;font-weight:bold;color:#0660a9">TM</div>
</body></html>
